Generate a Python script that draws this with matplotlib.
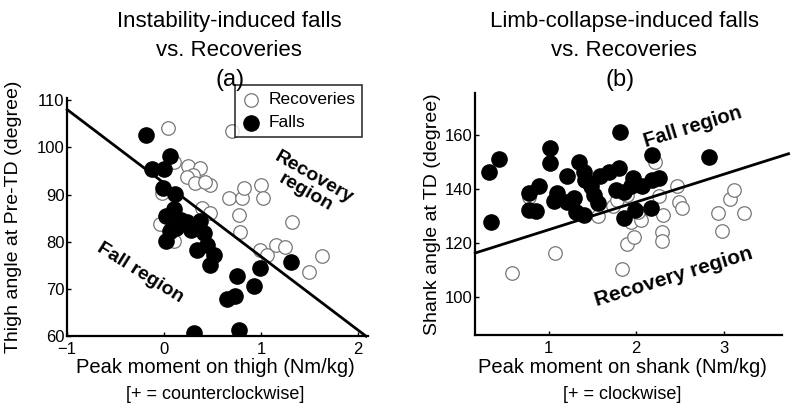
import matplotlib.pyplot as plt
import numpy as np

# (a) instability-induced falls vs. recoveries
a_rec_x = [0.04, 0.70, 0.10, 0.25, 0.37, 0.30, 0.23, 0.32, 0.47, 0.42, -0.02, -0.04, 0.10,
           0.39, 0.47, 0.67, 0.80, 0.82, 1.00, 1.02, 0.77, 0.78, 1.32, 0.99, 1.06, 1.15,
           1.24, 1.63, 1.49, 0.07]
a_rec_y = [104.2, 103.5, 97.0, 96.1, 95.6, 94.2, 93.8, 92.4, 92.0, 92.6, 90.3, 83.8, 80.1,
           87.1, 86.1, 89.2, 89.2, 91.3, 92.0, 89.2, 85.7, 82.0, 84.1, 78.3, 77.3, 79.4,
           79.0, 77.0, 73.7, 82.0]
a_fall_x = [-0.19, 0.06, -0.13, 0.00, -0.01, 0.11, 0.10, 0.02, 0.23, 0.06, 0.02, 0.32, 0.37,
            0.41, 0.44, 0.34, 0.51, 0.47, 0.75, 0.99, 0.93, 0.65, 0.73, 1.31, 0.31, 0.77,
            0.12, 0.28, 0.17]
a_fall_y = [102.7, 98.2, 95.4, 95.4, 91.5, 90.1, 86.9, 85.5, 84.1, 82.2, 80.1, 83.2, 84.3,
            81.8, 79.4, 78.2, 77.3, 75.1, 72.7, 74.4, 70.6, 67.9, 68.5, 75.8, 60.6, 61.4,
            83.0, 82.5, 84.6]
a_line_x = [-1.0, 2.08]
a_line_y = [108.0, 60.0]

# (b) limb-collapse-induced falls vs. recoveries
b_rec_x = [0.58, 1.07, 1.84, 1.90, 1.97, 1.94, 2.05, 2.29, 2.29, 2.31, 2.22, 2.26, 2.47,
           2.49, 2.52, 2.93, 2.98, 3.07, 3.12, 3.23, 1.56, 1.73, 1.78, 1.90, 2.02, 0.78,
           1.48]
b_rec_y = [108.8, 116.2, 110.4, 119.6, 122.3, 127.9, 128.5, 124.2, 120.7, 130.4, 150.1,
           137.2, 140.9, 135.3, 132.8, 131.0, 124.6, 136.4, 139.6, 131.0, 129.8, 133.5,
           135.9, 137.8, 131.6, 137.0, 140.5]
b_fall_x = [0.32, 0.43, 0.34, 1.02, 1.02, 1.82, 2.18, 2.83, 0.78, 0.89, 0.78, 0.86, 1.10,
            1.06, 1.21, 1.35, 1.40, 1.42, 1.21, 1.29, 1.31, 1.40, 1.48, 1.52, 1.56, 1.59,
            1.69, 1.80, 1.77, 1.86, 1.96, 1.94, 1.86, 1.99, 2.17, 2.07, 2.18, 2.26]
b_fall_y = [146.4, 151.1, 127.9, 155.3, 149.5, 161.0, 152.6, 151.7, 138.6, 141.1, 132.2,
            131.9, 138.4, 135.7, 144.6, 150.1, 146.4, 143.3, 135.3, 136.5, 131.6, 130.4,
            140.9, 137.8, 134.7, 144.6, 146.4, 147.7, 139.6, 139.0, 144.0, 140.9, 129.1,
            132.2, 132.8, 140.9, 143.3, 144.0]
b_line_x = [0.16, 3.74]
b_line_y = [116.3, 153.0]

narrow = ['Liberation Sans Narrow', 'Liberation Sans', 'DejaVu Sans']
sans = ['Liberation Sans', 'DejaVu Sans']

fig = plt.figure(figsize=(8, 4.11), dpi=100)
ax1 = fig.add_axes([0.084, 0.182, 0.376, 0.580])
ax2 = fig.add_axes([0.594, 0.185, 0.384, 0.589])


def style_axes(ax):
    for s in ['top', 'right']:
        ax.spines[s].set_visible(False)
    for s in ['left', 'bottom']:
        ax.spines[s].set_linewidth(1.6)
    ax.tick_params(direction='in', length=3, width=1, labelsize=12, pad=2)
    ax.tick_params(axis='x', pad=4)
    for lab in ax.get_xticklabels() + ax.get_yticklabels():
        lab.set_family(sans)


# panel (a)
ax1.scatter(a_rec_x, a_rec_y, s=95, facecolors='white', edgecolors='#777777',
            linewidths=0.9, zorder=2, label='Recoveries')
ax1.scatter(a_fall_x, a_fall_y, s=120, color='black', zorder=3, label='Falls')
ax1.plot(a_line_x, a_line_y, color='black', lw=2, zorder=4, clip_on=False)
ax1.set_xlim(-1, 2.1)
ax1.set_ylim(60, 110.5)
ax1.set_xticks([-1, 0, 1, 2])
ax1.set_yticks([60, 70, 80, 90, 100, 110])
style_axes(ax1)
ax1.text(-0.18, 0.5, 'Thigh angle at Pre-TD (degree)', transform=ax1.transAxes,
         rotation=90, ha='center', va='center', fontsize=14, family=narrow)
ax1.text(1.5, 92, 'Recovery\nregion', rotation=-30, ha='center', va='center',
         fontsize=14, fontweight='bold', family=sans, linespacing=1.0)
ax1.text(-0.25, 73.4, 'Fall region', rotation=-32, ha='center', va='center',
         fontsize=14, fontweight='bold', family=sans)
leg = ax1.legend(loc='upper right', bbox_to_anchor=(1.01, 1.09), frameon=True, fancybox=False,
                 edgecolor='black', handlelength=1.0, handletextpad=0.5, borderpad=0.4,
                 labelspacing=0.45, prop={'family': sans, 'size': 12.5})
leg.get_frame().set_linewidth(1.2)

# panel (b)
ax2.scatter(b_rec_x, b_rec_y, s=95, facecolors='white', edgecolors='#777777',
            linewidths=0.9, zorder=2)
ax2.scatter(b_fall_x, b_fall_y, s=120, color='black', zorder=3)
ax2.plot(b_line_x, b_line_y, color='black', lw=2, zorder=4, clip_on=False)
ax2.set_xlim(0.16, 3.67)
ax2.set_ylim(86, 175.5)
ax2.set_xticks([1, 2, 3])
ax2.set_yticks([100, 120, 140, 160])
style_axes(ax2)
ax2.text(-0.14, 0.5, 'Shank angle at TD (degree)', transform=ax2.transAxes,
         rotation=90, ha='center', va='center', fontsize=14, family=narrow)
ax2.text(2.65, 163, 'Fall region', rotation=17, ha='center', va='center',
         fontsize=14.5, fontweight='bold', family=sans)
ax2.text(2.43, 107.5, 'Recovery region', rotation=17, ha='center', va='center',
         fontsize=15, fontweight='bold', family=sans)

# titles and x labels in figure pixels
def ftext(px, py, s, **kw):
    fig.text(px / 800, 1 - py / 411, s, ha='center', va='center', **kw)

ftext(229, 21, 'Instability-induced falls', fontsize=16, family=narrow)
ftext(229, 50, 'vs. Recoveries', fontsize=16, family=narrow)
ftext(230, 80, '(a)', fontsize=17, family=sans)
ftext(624, 21, 'Limb-collapse-induced falls', fontsize=16, family=narrow)
ftext(624, 50, 'vs. Recoveries', fontsize=16, family=narrow)
ftext(620, 80, '(b)', fontsize=17, family=sans)

ftext(215, 367, 'Peak moment on thigh (Nm/kg)', fontsize=14.5, family=narrow)
ftext(215, 394, '[+ = counterclockwise]', fontsize=13, family=narrow)
ftext(622, 367, 'Peak moment on shank (Nm/kg)', fontsize=14.5, family=narrow)
ftext(622, 394, '[+ = clockwise]', fontsize=13, family=narrow)

fig.savefig('out.png', dpi=100)
